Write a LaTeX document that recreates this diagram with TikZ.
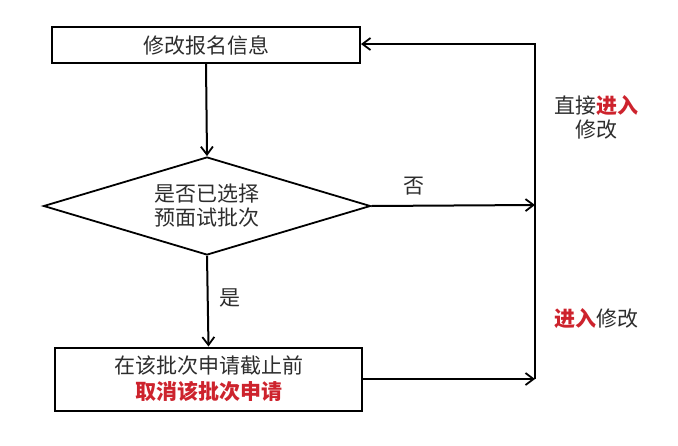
\documentclass[tikz,border=0pt]{standalone}
\usepackage{fontspec}
\setmainfont{Noto Sans CJK SC}
\usetikzlibrary{shapes.geometric,arrows.meta}
\definecolor{hl}{RGB}{205,35,45}
\definecolor{txt}{RGB}{45,45,45}
\begin{document}
\begin{tikzpicture}[x=1pt,y=-1pt,
  box/.style={draw,line width=2pt,inner sep=0pt,text=txt,align=center},
  decision/.style={draw,shape=diamond,line width=1.8pt,inner sep=0pt,aspect=3.3,text=txt,align=center},
  flow/.style={line width=2pt,-{Straight Barb[length=8pt,width=12pt,line width=1.8pt]}},
  lab/.style={text=txt,align=center,inner sep=0pt},
  txtfont/.style={font=\fontsize{21}{24}\selectfont}]
\useasboundingbox (0,0) rectangle (678,445);
\node[box,txtfont,minimum width=308pt,minimum height=36pt] (top) at (206,45) {修改报名信息};
\node[decision,txtfont,minimum width=327pt,minimum height=98pt] (dec) at (207,206) {是否已选择\\预面试批次};
\node[box,font=\fontsize{21}{26}\selectfont,minimum width=307pt,minimum height=63pt] (bot) at (208.5,379) {在该批次申请截止前\\\textcolor{hl}{\bfseries 取消该批次申请}};
\coordinate (rt) at (535,44);
\coordinate (rm) at (535,205);
\coordinate (rb) at (535,379);
\draw[flow] (top.south) -- (dec.north);
\draw[flow] (dec.south) -- (bot.north);
\draw[flow] (dec.east) -- (rm);
\draw[flow] (bot.east |- rb) -- (rb);
\draw[line width=2pt,line join=miter] (rb) -- (rt) -- ++(-20,0);
\draw[flow] (rt) -- (top.east |- rt);
\node[lab,txtfont] (no) at (414,186) {否};
\node[lab,txtfont] (yes) at (230,298) {是};
\node[lab,txtfont] (l1) at (596,117) {直接\textcolor{hl}{\bfseries 进入}\\修改};
\node[lab,txtfont] (l2) at (596,319) {\textcolor{hl}{\bfseries 进入}修改};
\end{tikzpicture}
\end{document}
